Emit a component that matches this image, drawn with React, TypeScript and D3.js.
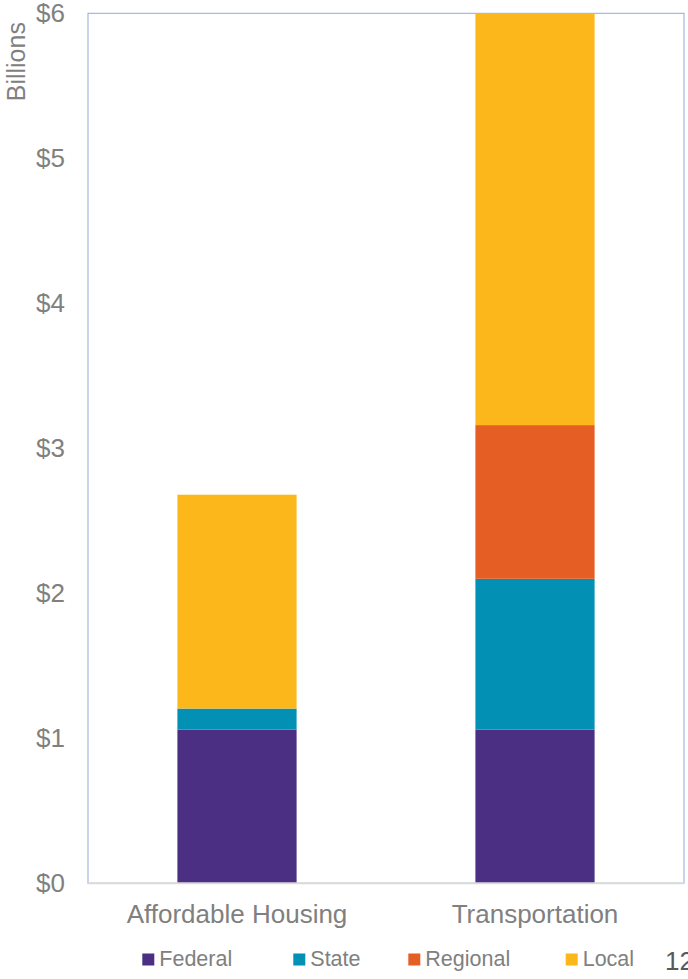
import React from "react";
import * as d3 from "d3";

const categories = ["Affordable Housing", "Transportation"];
const seriesNames = ["Federal", "State", "Regional", "Local"];
const federal = [1.06, 1.06];
const stateVals = [0.145, 1.04];
const regional = [0, 1.06];
const local = [1.475, 2.84];
const yTicks = [0, 1, 2, 3, 4, 5, 6];
const colors = ["#4B2F82", "#0290B4", "#E55F24", "#FCB71B"];

const W = 688;
const H = 979;
const left = 88;
const right = 684;
const top = 13.3;
const bottom = 883.3;
const textColor = "#808080";
const font = "'Liberation Sans', Arial, sans-serif";

export default function App() {
  const rows = categories.map((c, i) => ({
    cat: c,
    Federal: federal[i],
    State: stateVals[i],
    Regional: regional[i],
    Local: local[i],
  }));
  const stack = d3.stack<any>().keys(seriesNames)(rows);
  const x = d3
    .scaleBand<string>()
    .domain(categories)
    .range([left, right])
    .paddingInner(0.6)
    .paddingOuter(0.3);
  const y = d3.scaleLinear().domain([0, 6]).range([bottom, top]);

  const legendX = [142.3, 293.3, 408.3, 565.7];

  return (
    <svg
      width={W}
      height={H}
      style={{ position: "absolute", left: 0, top: 0, display: "block" }}
      fontFamily={font}
    >
      <rect x={0} y={0} width={W} height={H} fill="#ffffff" />
      {/* plot frame */}
      <rect
        x={left}
        y={top}
        width={right - left}
        height={bottom - top}
        fill="none"
        stroke="#8EAADB"
        strokeWidth={1}
      />
      {/* bars */}
      {stack.map((s, si) => (
        <g key={s.key} fill={colors[si]}>
          {s.map((d, i) =>
            d[1] - d[0] > 0 ? (
              <rect
                key={i}
                x={x(categories[i])}
                y={y(d[1])}
                width={x.bandwidth()}
                height={y(d[0]) - y(d[1])}
              />
            ) : null
          )}
        </g>
      ))}
      {/* x axis line */}
      <line x1={left} x2={right} y1={bottom} y2={bottom} stroke="#D9D9D9" strokeWidth={2} />
      {/* y tick labels */}
      {yTicks.map((t) => (
        <text
          key={t}
          x={65}
          y={y(t)}
          dy="0.35em"
          textAnchor="end"
          fontSize={26}
          fill={textColor}
        >
          {"$" + t}
        </text>
      ))}
      {/* y axis title */}
      <text
        transform={`translate(25,61.7) rotate(-90)`}
        textAnchor="middle"
        fontSize={25}
        fill={textColor}
      >
        Billions
      </text>
      {/* category labels */}
      {categories.map((c) => (
        <text
          key={c}
          x={(x(c) as number) + x.bandwidth() / 2}
          y={923}
          textAnchor="middle"
          fontSize={26}
          fill={textColor}
        >
          {c}
        </text>
      ))}
      {/* legend */}
      {seriesNames.map((n, i) => (
        <g key={n}>
          <rect x={legendX[i]} y={953.5} width={12} height={12} fill={colors[i]} />
          <text x={legendX[i] + 17} y={966.3} fontSize={21.5} fill={textColor}>
            {n}
          </text>
        </g>
      ))}
      {/* page number */}
      <text x={665} y={970} fontSize={26} fill="#595959">
        12
      </text>
    </svg>
  );
}
